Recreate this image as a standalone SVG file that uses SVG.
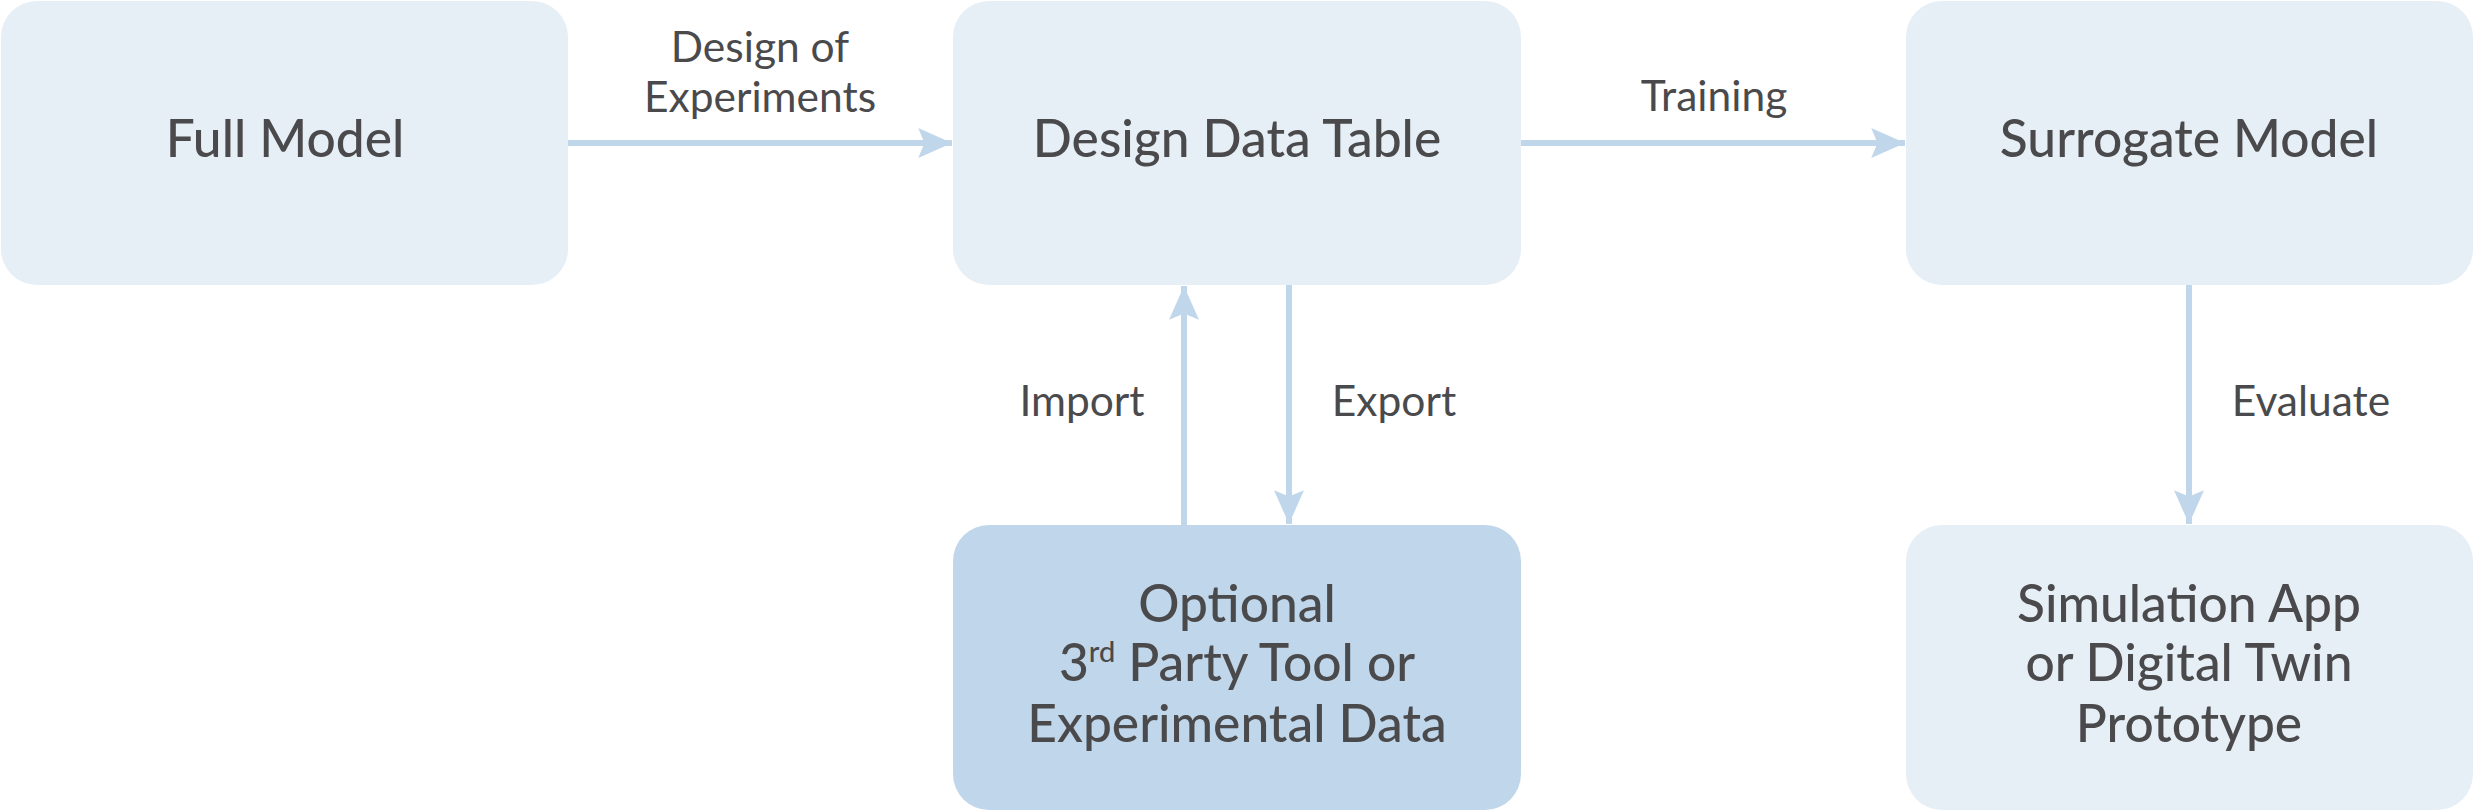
<svg xmlns="http://www.w3.org/2000/svg" width="2474" height="811" viewBox="0 0 2474 811">
<style>
.box{fill:#e6eef6;}
.box2{fill:#c0d6ea;}
.title{font-family:Lato,"Liberation Sans",sans-serif;font-size:51.5px;font-weight:500;fill:#4a4a4c;text-anchor:middle;}
.lbl{font-family:Lato,"Liberation Sans",sans-serif;font-size:42.5px;fill:#4a4a4c;text-anchor:middle;}
.conn{stroke:#c0d6ea;stroke-width:6;fill:none;}
</style>
<defs>
<marker id="ah" markerUnits="userSpaceOnUse" markerWidth="40" markerHeight="40" viewBox="-30 -15 32 30" refX="0" refY="0" orient="auto">
<path d="M0,0 L-27,-12 L-22,0 L-27,12 Z" fill="#c0d6ea"/>
</marker>
</defs>
<rect width="2474" height="811" fill="#ffffff"/>
<g id="connectors">
<line class="conn" x1="568" y1="143" x2="952" y2="143" marker-end="url(#ah)"/>
<line class="conn" x1="1521" y1="143" x2="1905" y2="143" marker-end="url(#ah)"/>
<line class="conn" x1="1184" y1="525" x2="1184" y2="286" marker-end="url(#ah)"/>
<line class="conn" x1="1289" y1="285" x2="1289" y2="524" marker-end="url(#ah)"/>
<line class="conn" x1="2189" y1="285" x2="2189" y2="524" marker-end="url(#ah)"/>
<text class="lbl" x="760" y="62">Design of</text>
<text class="lbl" x="760" y="112">Experiments</text>
<text class="lbl" x="1714" y="111">Training</text>
<text class="lbl" x="1082" y="416">Import</text>
<text class="lbl" x="1394" y="416">Export</text>
<text class="lbl" x="2311" y="416">Evaluate</text>
</g>
<g id="full-model">
<rect class="box" x="1" y="1" width="567" height="284" rx="36" ry="36"/>
<text class="title" x="285" y="157">Full Model</text>
</g>
<g id="design-data-table">
<rect class="box" x="953" y="1" width="568" height="284" rx="36" ry="36"/>
<text class="title" x="1237" y="157">Design Data Table</text>
</g>
<g id="surrogate-model">
<rect class="box" x="1906" y="1" width="567" height="284" rx="36" ry="36"/>
<text class="title" x="2189" y="157">Surrogate Model</text>
</g>
<g id="third-party">
<rect class="box2" x="953" y="525" width="568" height="285" rx="36" ry="36"/>
<text class="title" x="1237" y="622">Optional</text>
<text class="title" x="1237" y="681">3<tspan font-size="29" dy="-19">rd</tspan><tspan dy="19"> Party Tool or</tspan></text>
<text class="title" x="1237" y="742">Experimental Data</text>
</g>
<g id="simulation-app">
<rect class="box" x="1906" y="525" width="567" height="285" rx="36" ry="36"/>
<text class="title" x="2189" y="622">Simulation App</text>
<text class="title" x="2189" y="681">or Digital Twin</text>
<text class="title" x="2189" y="742">Prototype</text>
</g>
</svg>
